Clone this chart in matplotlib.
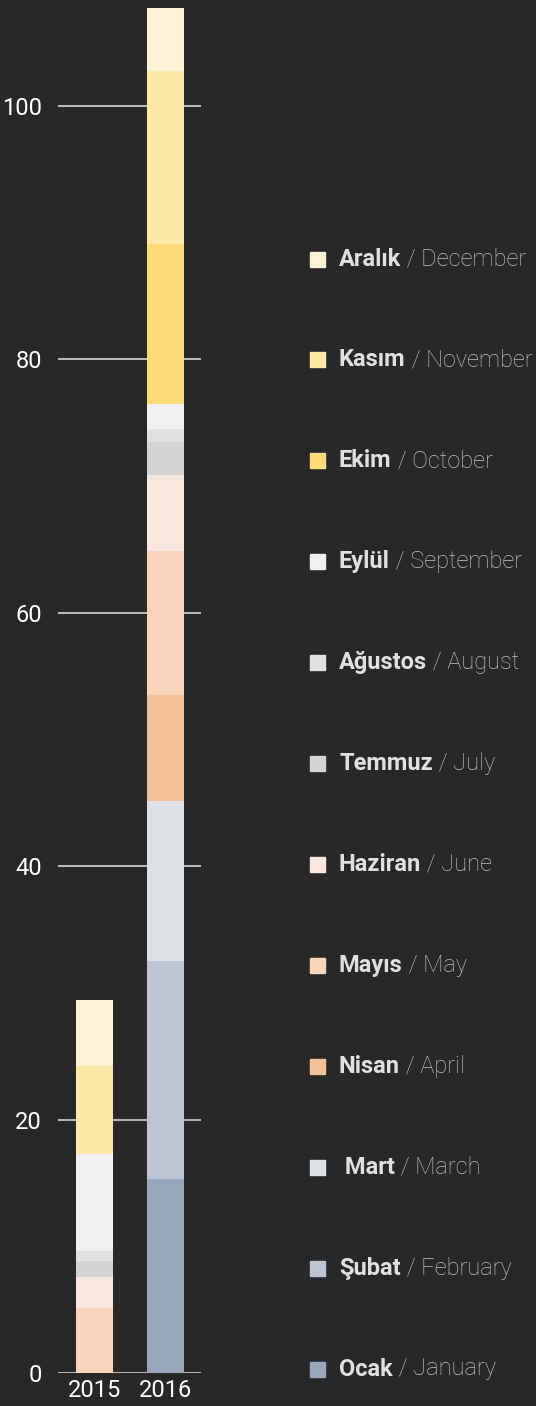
import matplotlib
matplotlib.use("Agg")
import matplotlib.pyplot as plt
from matplotlib.patches import Rectangle

years = ["2015", "2016"]
months_tr = ["Ocak", "Şubat", " Mart", "Nisan", "Mayıs", "Haziran",
             "Temmuz", "Ağustos", "Eylül", "Ekim", "Kasım", "Aralık"]
months_en = ["January", "February", "March", "April", "May", "June",
             "July", "August", "September", "October", "November", "December"]
values_2015 = [0, 0, 0, 0, 5.13, 2.45, 1.26, 0.79, 7.65, 0, 6.94, 5.21]
values_2016 = [15.31, 17.2, 12.63, 8.36, 11.36, 6.0, 2.6, 1.03, 1.97, 12.64, 13.6, 5.0]
colors = ["#97a7bd", "#bcc5d4", "#dee2e7", "#f4c095", "#f8d4bb", "#f9e7df",
          "#d3d3d3", "#e1e1e1", "#f0f0f0", "#ffdb7a", "#fde8a8", "#fef2d6"]
yticks = [0, 20, 40, 60, 80, 100]

BG = "#282828"
W, H = 536, 1406
fig = plt.figure(figsize=(W / 100, H / 100), dpi=100, facecolor=BG)
ax = fig.add_axes([58 / W, (H - 1373) / H, 143 / W, 1373 / H])
ax.set_facecolor(BG)

x = [0, 1]
bottoms = [0.0, 0.0]
for i in range(12):
    vals = [values_2015[i], values_2016[i]]
    ax.bar(x, vals, width=0.52, bottom=bottoms, color=colors[i], zorder=3, linewidth=0)
    bottoms = [bottoms[0] + vals[0], bottoms[1] + vals[1]]

ax.set_xlim(-0.514, 1.5)
ax.set_ylim(0, 108.34)
for t in yticks:
    ax.axhline(t, color="#bdbdbd", lw=1.4, zorder=1)

for s in ax.spines.values():
    s.set_visible(False)
ax.set_yticks(yticks)
ax.set_yticklabels([str(t) for t in yticks])
ax.set_xticks(x)
ax.set_xticklabels(years)
ax.tick_params(axis="y", length=0, pad=11.5, colors="white", labelsize=17)
ax.tick_params(axis="x", length=0, pad=4, colors="white", labelsize=17)
for lab in ax.get_yticklabels() + ax.get_xticklabels():
    lab.set_family("Roboto")

# legend
top_y = 259
step = (1369 - 259) / 11
for k, i in enumerate(range(11, -1, -1)):
    yc = top_y + k * step
    fy = 1 - yc / H
    fig.patches.append(Rectangle((310 / W, fy - 7.5 / H), 15 / W, 15 / H,
                                 transform=fig.transFigure, color=colors[i],
                                 figure=fig))
    t1 = fig.text(339 / W, fy, months_tr[i], color="#e0e0e0", fontsize=17,
                  fontweight="bold", family="Roboto", va="center", ha="left")
    ax.annotate(" / " + months_en[i], xy=(1, 0.5), xycoords=t1,
                color="#c2c2c2", fontsize=17, fontweight="light", family="Roboto",
                va="center", ha="left", annotation_clip=False)

fig.savefig("out.png", dpi=100, facecolor=BG)
